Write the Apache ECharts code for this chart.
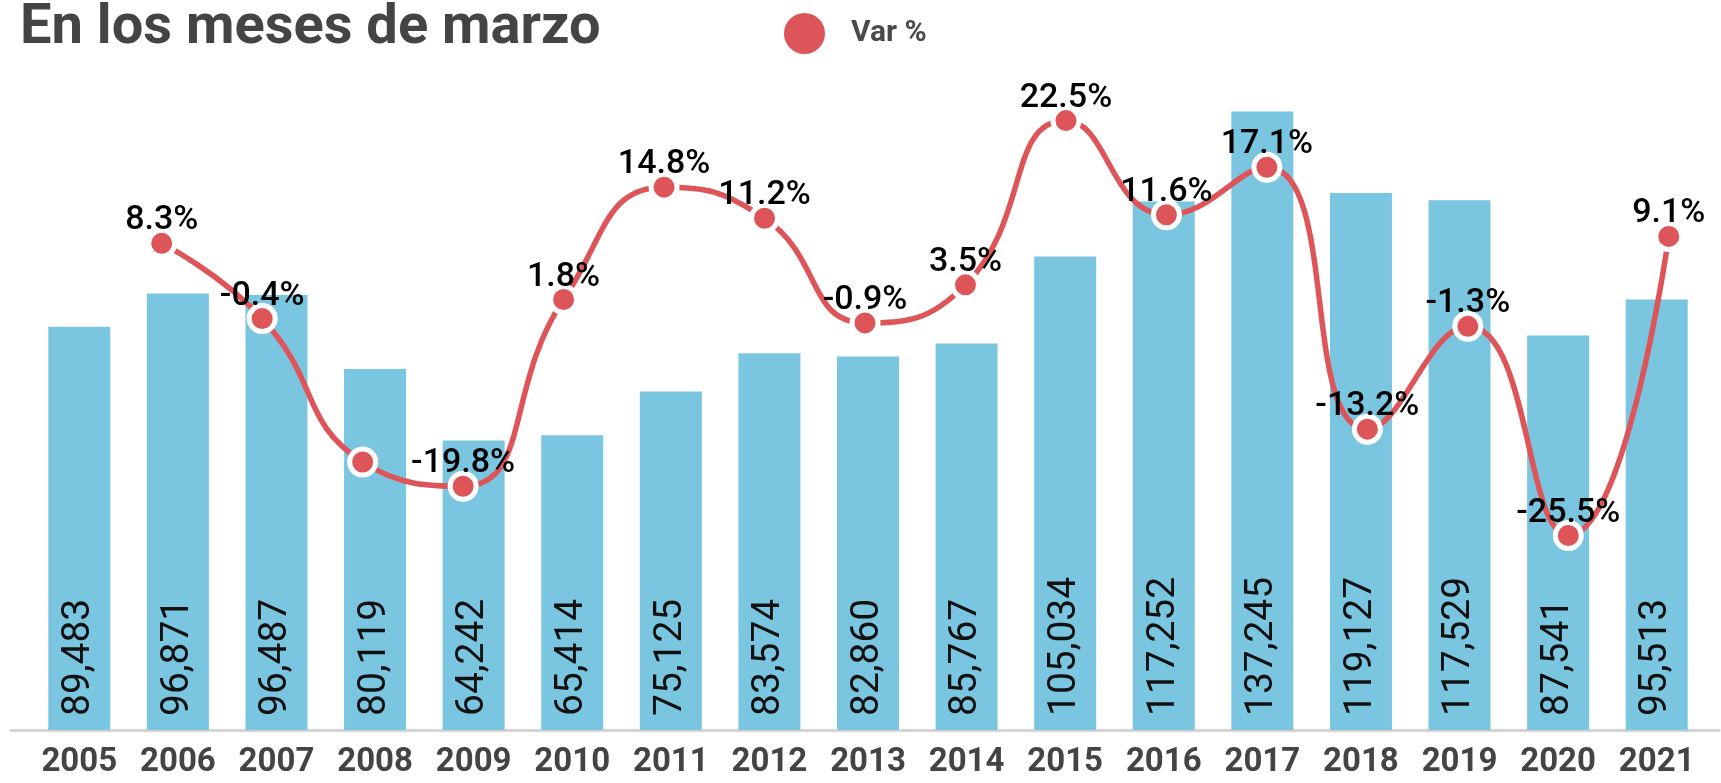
<!DOCTYPE html>
<html lang="es">
<head>
<meta charset="UTF-8">
<title>En los meses de marzo</title>
<script src="https://cdn.jsdelivr.net/npm/echarts@6/dist/echarts.min.js"></script>
<style>
  html, body { margin: 0; padding: 0; background: #fff; }
  #main { width: 1721px; height: 783px; }
</style>
</head>
<body>
<div id="main"></div>
<script>
// datos
var years = ['2005', '2006', '2007', '2008', '2009', '2010', '2011', '2012', '2013',
  '2014', '2015', '2016', '2017', '2018', '2019', '2020', '2021'];
var totals = [89483, 96871, 96487, 80119, 64242, 65414, 75125, 83574, 82860,
  85767, 105034, 117252, 137245, 119127, 117529, 87541, 95513];
// variación % respecto al año anterior (2005 sin dato, 2008 sin etiqueta)
var varPct = [null, 8.3, -0.4, -17.0, -19.8, 1.8, 14.8, 11.2, -0.9,
  3.5, 22.5, 11.6, 17.1, -13.2, -1.3, -25.5, 9.1];
var hiddenLabel = ['2008'];

var chart = echarts.init(document.getElementById('main'));

var lineData = varPct.map(function (v, i) {
  var d = { value: v };
  if (hiddenLabel.indexOf(years[i]) >= 0) d.label = { show: false };
  return d;
});

var option = {
  animation: false,
  textStyle: { fontFamily: 'Roboto' },
  title: {
    text: 'En los meses de marzo',
    left: 15,
    top: -4,
    textStyle: { fontSize: 56, fontWeight: 'bold', color: '#444444', fontFamily: 'Roboto' }
  },
  legend: {
    data: [{ name: 'Var %', icon: 'circle' }],
    left: 777,
    top: 6,
    itemWidth: 43,
    itemHeight: 43,
    textStyle: { fontSize: 30, fontWeight: 'bold', color: '#4a4a4a', padding: [0, 0, 0, 20] }
  },
  // la barra y la línea usan ejes de categorías distintos (la línea ocupa todo el ancho)
  grid: [
    { left: 30, right: 15, top: 99, bottom: 53 },
    { left: 11, right: 2, top: 99, bottom: 53 }
  ],
  xAxis: [
    {
      type: 'category',
      gridIndex: 0,
      data: years,
      axisLine: { show: false },
      axisTick: { show: false },
      axisLabel: { fontSize: 33, fontWeight: 'bold', color: '#444444', margin: 16 }
    },
    {
      type: 'category',
      gridIndex: 1,
      data: years,
      axisLine: { show: true, onZero: false, lineStyle: { color: '#d4d4d4', width: 3 } },
      axisTick: { show: false },
      axisLabel: { show: false },
      z: 1
    }
  ],
  yAxis: [
    { type: 'value', gridIndex: 0, min: 0, max: 140000, show: false, splitLine: { show: false } },
    { type: 'value', gridIndex: 1, min: -48, max: 25, show: false, splitLine: { show: false } }
  ],
  series: [
    {
      name: 'Marzo',
      type: 'bar',
      xAxisIndex: 0,
      yAxisIndex: 0,
      data: totals,
      barWidth: 62,
      itemStyle: { color: '#7ac5e0' },
      z: 2,
      label: {
        show: true,
        position: 'insideBottom',
        rotate: 90,
        align: 'left',
        verticalAlign: 'middle',
        distance: 14,
        fontSize: 39,
        color: '#111111',
        formatter: function (p) { return p.value.toLocaleString('en-US'); }
      }
    },
    {
      name: 'Var %',
      type: 'line',
      xAxisIndex: 1,
      yAxisIndex: 1,
      data: lineData,
      smooth: 0.5,
      connectNulls: false,
      symbol: 'circle',
      symbolSize: 26,
      z: 5,
      lineStyle: { color: '#dd5558', width: 5.5 },
      itemStyle: { color: '#dd5558', borderColor: '#ffffff', borderWidth: 5 },
      label: {
        show: true,
        position: 'top',
        distance: -10,
        fontSize: 34,
        fontWeight: 500,
        color: '#000000',
        formatter: function (p) { return p.value == null ? '' : p.value.toFixed(1) + '%'; }
      }
    }
  ]
};

chart.setOption(option);
</script>
</body>
</html>
